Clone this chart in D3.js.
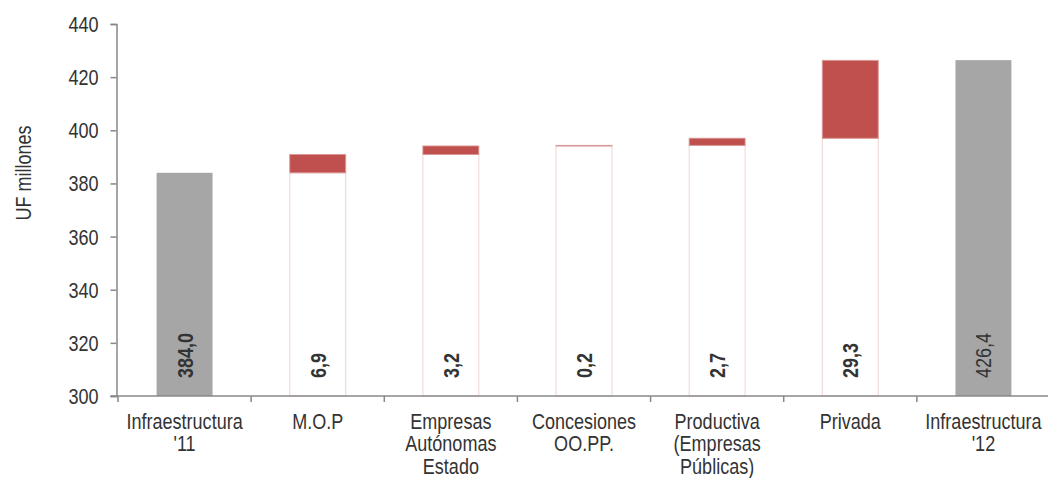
<!DOCTYPE html>
<html>
<head>
<meta charset="utf-8">
<script src="https://cdn.jsdelivr.net/npm/d3@7"></script>
<style>
  html, body { margin: 0; padding: 0; background: #fff; }
  svg { display: block; }
  text { font-family: "Liberation Sans Narrow", "Arial Narrow", "Liberation Sans", Arial, sans-serif; }
</style>
</head>
<body>
<svg id="chart" width="1048" height="478"></svg>
<script>
// Waterfall of infrastructure investment, 2011 -> 2012 (UF millones)
const categories = [
  "Infraestructura|'11",
  "M.O.P",
  "Empresas|Autónomas|Estado",
  "Concesiones|OO.PP.",
  "Productiva|(Empresas|Públicas)",
  "Privada",
  "Infraestructura|'12"
];
const values = [384.0, 6.9, 3.2, 0.2, 2.7, 29.3, 426.4];
const kinds = ["total", "delta", "delta", "delta", "delta", "delta", "total"];
const yTicks = [300, 320, 340, 360, 380, 400, 420, 440];
const yLabel = "UF millones";

const axisX = 116.5;
const plot = { left: 118, right: 1050, top: 24, bottom: 396 };
const FS = 22;          // font size
const NARROW = 0.82;    // horizontal squeeze for a condensed look
const svg = d3.select("#chart");

const x = d3.scaleBand().domain(categories).range([plot.left, plot.right]).padding(0);
const y = d3.scaleLinear().domain([300, 440]).range([plot.bottom, plot.top]);
const barW = x.bandwidth() * 0.42;

// running totals: each delta sits on top of the previous cumulative value
let running = 0;
const rows = categories.map((c, i) => {
  const v = values[i];
  let start, end;
  if (kinds[i] === "total") { start = 300; end = v; running = v; }
  else { start = running; end = running + v; running = end; }
  return { c, v, kind: kinds[i], start, end };
});

const cx = d => x(d.c) + x.bandwidth() / 2;

// invisible base bars (white with faint outline) under each delta
svg.append("g").selectAll("rect")
  .data(rows.filter(d => d.kind === "delta"))
  .join("rect")
  .attr("x", d => cx(d) - barW / 2)
  .attr("y", d => y(d.start))
  .attr("width", barW)
  .attr("height", d => y(300) - y(d.start))
  .attr("fill", "#ffffff")
  .attr("stroke", "rgba(192,80,77,0.25)")
  .attr("stroke-width", 1);

// totals
svg.append("g").selectAll("rect")
  .data(rows.filter(d => d.kind === "total"))
  .join("rect")
  .attr("x", d => cx(d) - barW / 2)
  .attr("y", d => y(d.end))
  .attr("width", barW)
  .attr("height", d => y(300) - y(d.end))
  .attr("fill", "#a6a6a6");

// deltas
svg.append("g").selectAll("rect")
  .data(rows.filter(d => d.kind === "delta"))
  .join("rect")
  .attr("x", d => cx(d) - barW / 2)
  .attr("y", d => y(d.end))
  .attr("width", barW)
  .attr("height", d => Math.max(0, y(d.start) - y(d.end)))
  .attr("fill", "#c0504d")
  .attr("stroke", "rgba(217,150,148,0.9)")
  .attr("stroke-width", 1);

// value labels, rotated, near the baseline
const fmt = v => d3.format(".1f")(v).replace(".", ",");
svg.append("g").selectAll("text")
  .data(rows)
  .join("text")
  .attr("transform", d => `translate(${cx(d) + 8},${y(300) - 18}) rotate(-90) scale(${NARROW},1)`)
  .attr("text-anchor", "start")
  .attr("font-size", FS)
  .attr("font-weight", (d, i) => i === rows.length - 1 ? "normal" : "bold")
  .attr("fill", "#333333")
  .text(d => fmt(d.v));

// y axis
const yAxis = svg.append("g")
  .attr("transform", `translate(${axisX},0)`)
  .call(d3.axisLeft(y).tickValues(yTicks).tickSize(6).tickFormat(""));
yAxis.select(".domain").attr("stroke", "#888").attr("stroke-width", 1.5);
yAxis.selectAll(".tick line").attr("stroke", "#888").attr("stroke-width", 1.5);
svg.append("g").selectAll("text")
  .data(yTicks)
  .join("text")
  .attr("transform", d => `translate(${axisX - 18},${y(d) + 8}) scale(${NARROW},1)`)
  .attr("text-anchor", "end")
  .attr("font-size", FS)
  .attr("fill", "#333")
  .text(d => d3.format("d")(d));

// x axis line with ticks at band boundaries
const xg = svg.append("g");
xg.append("line")
  .attr("x1", axisX - 6).attr("x2", 1048)
  .attr("y1", y(300)).attr("y2", y(300))
  .attr("stroke", "#888").attr("stroke-width", 1.5);
const bounds = categories.map(c => x(c)).concat([x(categories[categories.length - 1]) + x.bandwidth()]);
xg.selectAll("line.tk")
  .data(bounds)
  .join("line")
  .attr("class", "tk")
  .attr("x1", d => d).attr("x2", d => d)
  .attr("y1", y(300)).attr("y2", y(300) + 6)
  .attr("stroke", "#888").attr("stroke-width", 1.5);

// category labels (multi-line)
const cat = xg.selectAll("text.cat")
  .data(categories)
  .join("text")
  .attr("class", "cat")
  .attr("text-anchor", "middle")
  .attr("font-size", FS)
  .attr("fill", "#333")
  .attr("transform", d => `translate(${x(d) + x.bandwidth() / 2},${y(300) + 33}) scale(${NARROW},1)`);
cat.selectAll("tspan")
  .data(d => d.split("|"))
  .join("tspan")
  .attr("x", 0)
  .attr("dy", (d, i) => i === 0 ? 0 : 22.5)
  .text(d => d);

// y axis title
svg.append("text")
  .attr("transform", `translate(31,173) rotate(-90) scale(${NARROW},1)`)
  .attr("text-anchor", "middle")
  .attr("font-size", FS)
  .attr("fill", "#333")
  .text(yLabel);
</script>
</body>
</html>
